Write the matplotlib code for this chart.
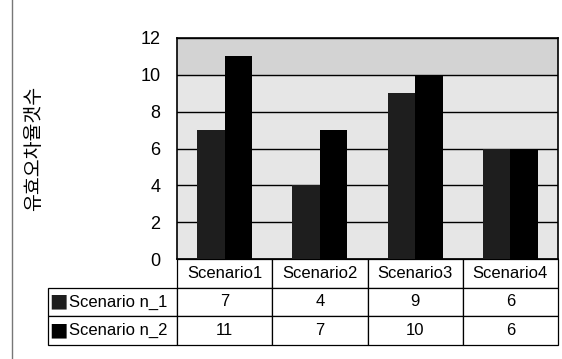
import numpy as np
import matplotlib.pyplot as plt
from matplotlib.lines import Line2D

plt.rcParams['font.family'] = ['Liberation Sans', 'Noto Sans CJK KR']

# data
categories = ['Scenario1', 'Scenario2', 'Scenario3', 'Scenario4']
series_names = ['Scenario n_1', 'Scenario n_2']
n_1 = [7, 4, 9, 6]
n_2 = [11, 7, 10, 6]
y_ticks = [0, 2, 4, 6, 8, 10, 12]
y_label = '유효오차율갯수'

fig = plt.figure(figsize=(5.62, 3.59), dpi=100)
ax = fig.add_axes([177 / 562, 1 - 259 / 359, 381 / 562, 221 / 359])

x = np.arange(len(categories))
w = 0.29
ax.set_facecolor('#e6e6e6')
ax.axhspan(10, 12, color='#d3d3d3', zorder=0)
ax.bar(x - w / 2, n_1, w, color='#1e1e1e', zorder=3)
ax.bar(x + w / 2, n_2, w, color='black', zorder=3)

ax.set_xlim(-0.5, len(categories) - 0.5)
ax.set_ylim(0, 12)
ax.set_yticks(y_ticks)
ax.set_xticks([])
ax.tick_params(axis='y', length=0, pad=12, labelsize=13)
ax.grid(axis='y', color='black', linewidth=1, zorder=1)
for s in ax.spines.values():
    s.set_linewidth(1.2)
ax.set_ylabel(y_label, fontsize=14)
ax.yaxis.set_label_coords(-0.352, 0.5)

# data table under the plot
cells = [[''] + categories,
         [series_names[0]] + [str(v) for v in n_1],
         [series_names[1]] + [str(v) for v in n_2]]
colw = [129] + [95.25] * len(categories)
tbl = ax.table(cellText=cells, colWidths=colw, cellLoc='center',
               bbox=[-129 / 381, -86 / 221, 510 / 381, 86 / 221])
tbl.auto_set_font_size(False)
tbl.set_fontsize(12)
for (r, c), cell in tbl.get_celld().items():
    cell.set_linewidth(0.9)
    if r == 0 and c == 0:
        cell.set_visible(False)
    if c == 0 and r > 0:
        cell.set_text_props(ha='left')
        cell.PAD = 0.16

# legend keys in the row labels
for i, col in enumerate(['#1e1e1e', 'black']):
    ax.text(-128 / 381, -(27 + 29 * i + 15) / 221, '■', fontsize=14, color=col,
            family='DejaVu Sans', ha='left', va='center', transform=ax.transAxes)

fig.add_artist(Line2D([12 / 562, 12 / 562], [0.0, 1.0], color='#777777', linewidth=1))

fig.savefig('out.png', dpi=100)
